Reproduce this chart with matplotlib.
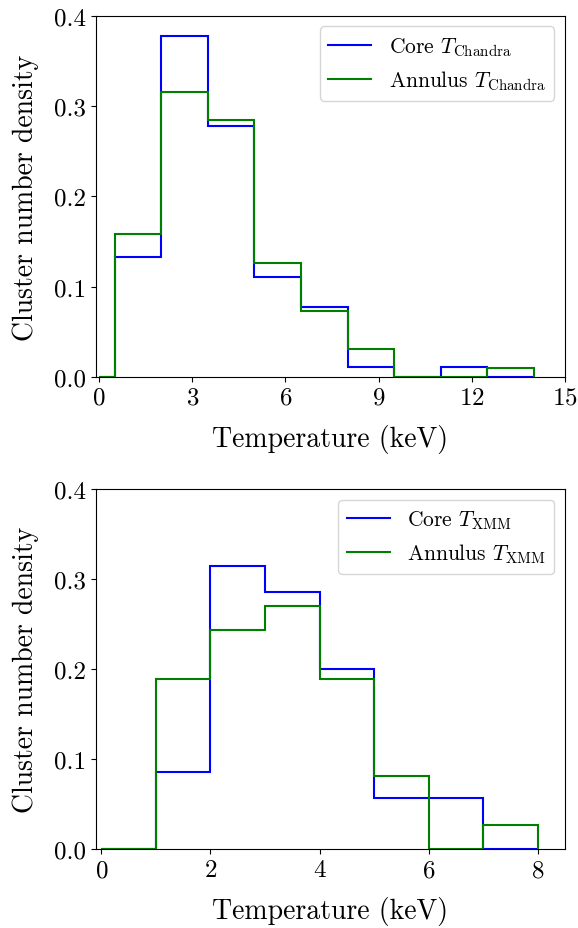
import numpy as np
import matplotlib
matplotlib.use("Agg")
import matplotlib.pyplot as plt
from matplotlib.lines import Line2D

plt.rcParams["font.family"] = "serif"
plt.rcParams["font.serif"] = ["cmr10", "DejaVu Serif"]
plt.rcParams["mathtext.fontset"] = "cm"
plt.rcParams["axes.formatter.use_mathtext"] = True
plt.rcParams["axes.unicode_minus"] = False

# Chandra temperatures (bin edges + density per bin)
chandra_edges = [0, 0.5, 2, 3.5, 5, 6.5, 8, 9.5, 11, 12.5, 14]
chandra_core = [0, 0.1333, 0.3778, 0.2778, 0.1111, 0.0778, 0.0111, 0, 0.0111, 0]
chandra_annulus = [0, 0.1579, 0.3158, 0.2842, 0.1263, 0.0737, 0.0316, 0, 0, 0.0105]

# XMM temperatures
xmm_edges = [0, 1, 2, 3, 4, 5, 6, 7, 8]
xmm_core = [0, 0.0857, 0.3143, 0.2857, 0.2, 0.0571, 0.0571, 0]
xmm_annulus = [0, 0.1892, 0.2432, 0.2703, 0.1892, 0.0811, 0, 0.0270]

fig = plt.figure(figsize=(5.78, 9.29), dpi=100)
ax1 = fig.add_axes([0.166, 0.593, 0.8115, 0.389])
ax2 = fig.add_axes([0.166, 0.0847, 0.8115, 0.388])


def draw(ax, edges, core, annulus, label, xlim, xticks):
    centers = np.array(edges[:-1])
    ax.hist(centers, bins=edges, weights=core, histtype="step",
            color="blue", linewidth=1.5)
    ax.hist(centers, bins=edges, weights=annulus, histtype="step",
            color="green", linewidth=1.5)
    ax.set_xlim(*xlim)
    ax.set_ylim(0, 0.4)
    ax.set_xticks(xticks)
    ax.set_yticks([0, 0.1, 0.2, 0.3, 0.4])
    ax.set_yticklabels(["0.0", "0.1", "0.2", "0.3", "0.4"])
    ax.tick_params(labelsize=18)
    ax.set_xlabel("Temperature (keV)", fontsize=20, labelpad=11)
    ax.set_ylabel("Cluster number density", fontsize=20, labelpad=11)
    handles = [
        Line2D([], [], color="blue", linewidth=1.5),
        Line2D([], [], color="green", linewidth=1.5),
    ]
    labels = [r"Core $T_{\mathrm{%s}}$" % label,
              r"Annulus $T_{\mathrm{%s}}$" % label]
    ax.legend(handles, labels, loc="upper right", fontsize=15.5)


draw(ax1, chandra_edges, chandra_core, chandra_annulus, "Chandra",
     (-0.1, 15), [0, 3, 6, 9, 12, 15])
draw(ax2, xmm_edges, xmm_core, xmm_annulus, "XMM",
     (-0.1, 8.5), [0, 2, 4, 6, 8])

fig.savefig("out.png", dpi=100)
